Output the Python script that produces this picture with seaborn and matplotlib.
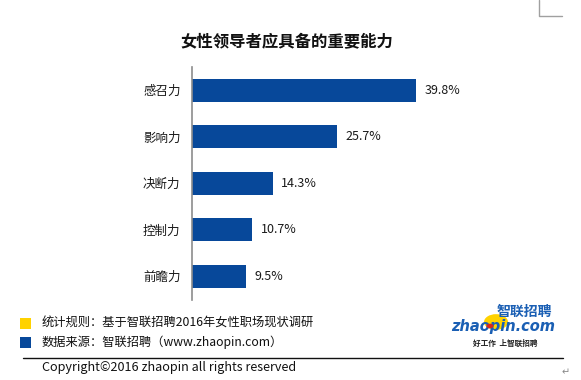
import matplotlib
matplotlib.use("Agg")
import matplotlib.pyplot as plt
import seaborn as sns
import pandas as pd
from matplotlib.patches import Rectangle, Circle
from matplotlib.lines import Line2D

categories = ["感召力", "影响力", "决断力", "控制力", "前瞻力"]
values = [39.8, 25.7, 14.3, 10.7, 9.5]
value_labels = ["39.8%", "25.7%", "14.3%", "10.7%", "9.5%"]
title = "女性领导者应具备的重要能力"
note1 = "统计规则：基于智联招聘2016年女性职场现状调研"
note2 = "数据来源：智联招聘（www.zhaopin.com）"
copyright_text = "Copyright©2016 zhaopin all rights reserved"

sns.set_theme(style="white")
plt.rcParams['font.family'] = ['Noto Sans CJK SC', 'DejaVu Sans']

W, H = 581, 380
fig = plt.figure(figsize=(W / 100, H / 100), dpi=100)
fig.patch.set_facecolor("white")

def fx(px):
    return px / W

def fy(py):
    return 1 - py / H

ax_left, ax_right = 192.3, 192.3 + 5.62 * 45
ax_top, ax_bot = 67, 299.5
ax = fig.add_axes([fx(ax_left), fy(ax_bot), fx(ax_right - ax_left), (ax_bot - ax_top) / H])

df = pd.DataFrame({"能力": categories, "比例": values})
bar_color = "#07489A"
sns.barplot(data=df, x="比例", y="能力", color=bar_color, width=0.5, ax=ax,
            saturation=1, edgecolor="none")
ax.set_xlim(0, 45)
ax.set_ylim(4.5, -0.5)
for s in ["top", "right", "bottom"]:
    ax.spines[s].set_visible(False)
ax.spines["left"].set_color("#8c8c8c")
ax.spines["left"].set_linewidth(1.2)
ax.set_xticks([])
ax.set_xlabel("")
ax.set_ylabel("")
ax.tick_params(axis="y", length=0, pad=8.5, labelsize=9, labelcolor="#1a1a1a")
for c in ax.containers:
    ax.bar_label(c, labels=value_labels, padding=6, fontsize=9, color="#1a1a1a")

fig.text(fx(286.5), fy(42), title, ha="center", va="center", fontsize=11.8,
         fontweight="bold", color="#111111")

# footer notes
fig.add_artist(Rectangle((fx(20), fy(329)), fx(11), 11 / H, transform=fig.transFigure,
                         facecolor="#FFD200", edgecolor="none"))
fig.add_artist(Rectangle((fx(20), fy(348)), fx(11), 11 / H, transform=fig.transFigure,
                         facecolor="#07489A", edgecolor="none"))
fig.text(fx(42), fy(323.5), note1, ha="left", va="center", fontsize=8.8, color="#111111")
fig.text(fx(42), fy(342.5), note2, ha="left", va="center", fontsize=8.8, color="#111111")
fig.add_artist(Line2D([fx(23), fx(563)], [fy(358), fy(358)], transform=fig.transFigure,
                      color="#111111", linewidth=1.0))
fig.text(fx(42), fy(367.5), copyright_text, ha="left", va="center", fontsize=9.1,
         color="#111111")
fig.text(fx(566), fy(372), "↵", ha="center", va="center", fontsize=7, color="#888888",
         family=["DejaVu Sans"])

# top-right corner mark
fig.add_artist(Line2D([fx(538.5), fx(538.5), fx(562)], [fy(0), fy(16), fy(16)],
                      transform=fig.transFigure, color="#a0a0a0", linewidth=1.0))

# logo
fig.add_artist(Circle((fx(496), fy(322)), 12 / W, transform=fig.transFigure,
                      facecolor="#FFD200", edgecolor="none"))
fig.add_artist(Circle((fx(490), fy(326)), 3.5 / W, transform=fig.transFigure,
                      facecolor="#d9261c", edgecolor="none", zorder=5))
fig.text(fx(524), fy(312), "智联招聘", ha="center", va="center", fontsize=10,
         fontweight="bold", style="italic", color="#1a5fb4")
fig.text(fx(503), fy(327), "zhaopin.com", ha="center", va="center", fontsize=10.5,
         fontweight="bold", style="italic", color="#1a5fb4", family=["DejaVu Sans"])
fig.text(fx(505), fy(343), "好工作  上智联招聘", ha="center", va="center", fontsize=5.5,
         fontweight="bold", style="italic", color="#222222")

fig.savefig("out.png", dpi=100, facecolor="white")
